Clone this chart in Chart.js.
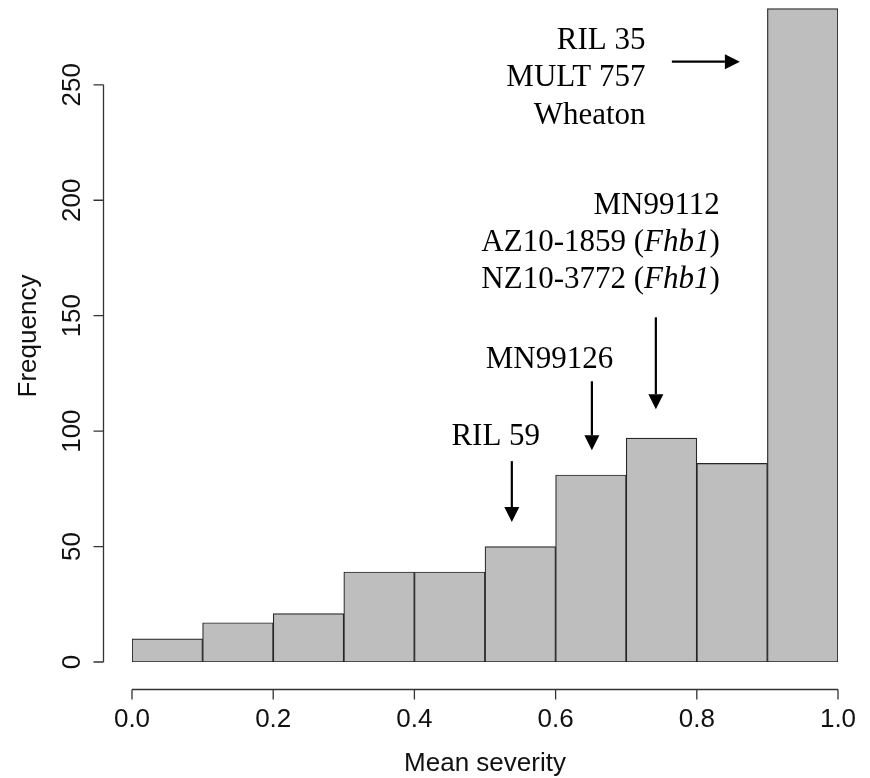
<!DOCTYPE html>
<html>
<head>
<meta charset="utf-8">
<script src="https://cdn.jsdelivr.net/npm/chart.js@4.4.1/dist/chart.umd.min.js"></script>
<style>
  html, body { margin: 0; padding: 0; background: #fff; }
  #wrap { width: 870px; height: 778px; }
</style>
</head>
<body>
<div id="wrap"><canvas id="histChart" width="870" height="778"></canvas></div>
<script>
// histogram bins (mean severity) and counts per bin
const binEdges = [0.0, 0.1, 0.2, 0.3, 0.4, 0.5, 0.6, 0.7, 0.8, 0.9, 1.0];
const counts = [10, 17, 21, 39, 39, 50, 81, 97, 86, 283];
const xTicks = [0.0, 0.2, 0.4, 0.6, 0.8, 1.0];
const yTicks = [0, 50, 100, 150, 200, 250];

// line annotations, anchored in data units
const notes = [
  { x: 0.7274, y: 265.7, gap: 37.5, lines: [[['RIL 35', '']], [['MULT 757', '']], [['Wheaton', '']]] },
  { x: 0.8326, y: 193.9, gap: 37, lines: [
      [['MN99112', '']],
      [['AZ10-1859 (', ''], ['Fhb1', 'italic '], [')', '']],
      [['NZ10-3772 (', ''], ['Fhb1', 'italic '], [')', '']]
  ] },
  { x: 0.6816, y: 127.4, gap: 0, lines: [[['MN99126', '']]] },
  { x: 0.578, y: 94.2, gap: 0, lines: [[['RIL 59', '']]] }
];
const arrows = [
  { x0: 0.7647, y0: 260, x1: 0.861, y1: 260 },
  { x0: 0.742, y0: 149.3, x1: 0.742, y1: 109.5 },
  { x0: 0.6514, y0: 121.6, x1: 0.6514, y1: 91.7 },
  { x0: 0.538, y0: 87, x1: 0.538, y1: 60.6 }
];

const bars = counts.map((c, i) => ({ x: (binEdges[i] + binEdges[i + 1]) / 2, y: c }));

const sansFont = '26px "Liberation Sans", Arial, sans-serif';
const serifFont = '31px "Liberation Serif", "Times New Roman", serif';

// R-style detached axes plus the text/arrow annotations
const rAxes = {
  id: 'rAxes',
  afterDraw(chart) {
    const ctx = chart.ctx;
    const xs = chart.scales.x, ys = chart.scales.y;
    ctx.save();
    ctx.strokeStyle = '#333';
    ctx.fillStyle = '#111';
    ctx.lineWidth = 1.3;

    // y axis
    const yAxisX = 103.5;
    ctx.beginPath();
    ctx.moveTo(yAxisX, ys.getPixelForValue(yTicks[0]));
    ctx.lineTo(yAxisX, ys.getPixelForValue(yTicks[yTicks.length - 1]));
    yTicks.forEach(t => {
      const py = ys.getPixelForValue(t);
      ctx.moveTo(yAxisX, py);
      ctx.lineTo(yAxisX - 10, py);
    });
    ctx.stroke();
    ctx.font = sansFont;
    ctx.textAlign = 'center';
    ctx.textBaseline = 'alphabetic';
    yTicks.forEach(t => {
      const py = ys.getPixelForValue(t);
      ctx.save();
      ctx.translate(80, py);
      ctx.rotate(-Math.PI / 2);
      ctx.fillText(String(t), 0, 0);
      ctx.restore();
    });

    // x axis
    const xAxisY = 689.5;
    ctx.beginPath();
    ctx.moveTo(xs.getPixelForValue(xTicks[0]), xAxisY);
    ctx.lineTo(xs.getPixelForValue(xTicks[xTicks.length - 1]), xAxisY);
    xTicks.forEach(t => {
      const px = xs.getPixelForValue(t);
      ctx.moveTo(px, xAxisY);
      ctx.lineTo(px, xAxisY + 10);
    });
    ctx.stroke();
    xTicks.forEach(t => {
      ctx.fillText(t.toFixed(1), xs.getPixelForValue(t), 727);
    });

    // axis titles
    ctx.fillText('Mean severity', (xs.left + xs.right) / 2, 771);
    ctx.save();
    ctx.translate(36, 336);
    ctx.rotate(-Math.PI / 2);
    ctx.fillText('Frequency', 0, 0);
    ctx.restore();

    // annotations: right-aligned lines with mixed upright/italic runs
    ctx.fillStyle = '#000';
    ctx.textAlign = 'left';
    notes.forEach(n => {
      const right = xs.getPixelForValue(n.x);
      let base = ys.getPixelForValue(n.y);
      n.lines.forEach(runs => {
        let w = 0;
        runs.forEach(([txt, st]) => { ctx.font = st + serifFont; w += ctx.measureText(txt).width; });
        let cx = right - w;
        runs.forEach(([txt, st]) => {
          ctx.font = st + serifFont;
          ctx.fillText(txt, cx, base);
          cx += ctx.measureText(txt).width;
        });
        base += n.gap;
      });
    });

    // arrows
    ctx.strokeStyle = '#000';
    ctx.fillStyle = '#000';
    ctx.lineWidth = 2.2;
    arrows.forEach(a => {
      const x0 = xs.getPixelForValue(a.x0), y0 = ys.getPixelForValue(a.y0);
      const x1 = xs.getPixelForValue(a.x1), y1 = ys.getPixelForValue(a.y1);
      const ang = Math.atan2(y1 - y0, x1 - x0);
      const head = 15, half = 7.5;
      const bx = x1 - head * Math.cos(ang), by = y1 - head * Math.sin(ang);
      ctx.beginPath();
      ctx.moveTo(x0, y0);
      ctx.lineTo(bx, by);
      ctx.stroke();
      ctx.beginPath();
      ctx.moveTo(x1, y1);
      ctx.lineTo(bx + half * Math.sin(ang), by - half * Math.cos(ang));
      ctx.lineTo(bx - half * Math.sin(ang), by + half * Math.cos(ang));
      ctx.closePath();
      ctx.fill();
    });
    ctx.restore();
  }
};

window.addEventListener('DOMContentLoaded', () => {
  const ctx = document.getElementById('histChart').getContext('2d');
  new Chart(ctx, {
    type: 'bar',
    data: {
      datasets: [{
        label: 'Frequency',
        data: bars,
        backgroundColor: '#bebebe',
        borderColor: '#262626',
        borderWidth: 1.2,
        borderSkipped: false,
        barPercentage: 1,
        categoryPercentage: 1
      }]
    },
    options: {
      responsive: false,
      animation: false,
      layout: { padding: { left: 132, right: 32, top: 4, bottom: 116 } },
      plugins: { legend: { display: false }, tooltip: { enabled: false } },
      scales: {
        x: { type: 'linear', min: 0, max: 1, offset: false, display: false },
        y: { min: 0, max: 285, display: false }
      }
    },
    plugins: [rAxes]
  });
});
</script>
</body>
</html>
